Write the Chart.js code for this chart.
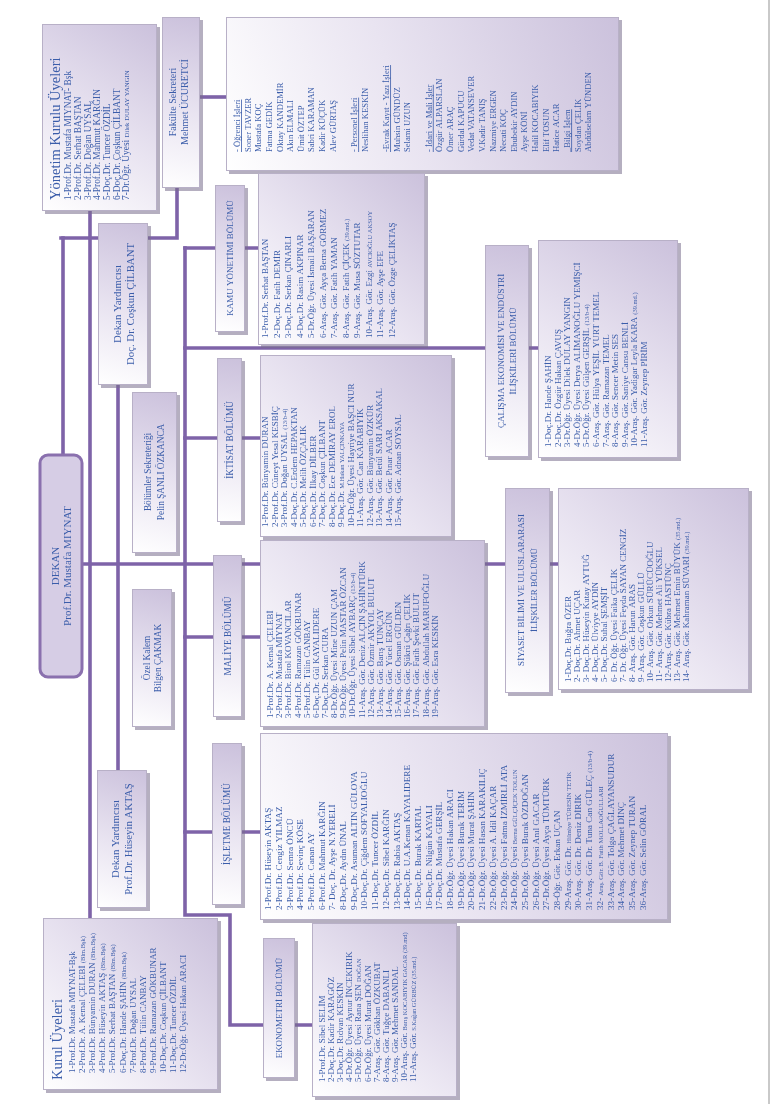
<!DOCTYPE html>
<html><head><meta charset="utf-8">
<script src="https://cdn.jsdelivr.net/npm/chart.js@4.4.1/dist/chart.umd.min.js"></script>
<style>html,body{margin:0;padding:0;background:#fff;overflow:hidden}canvas{display:block}</style>
</head><body>
<canvas id="c" width="771" height="1104" style="width:771px;height:1104px"></canvas>
<script>
// ---------------- DATA (texts) ----------------
const yonetimTitle = "Yönetim Kurulu Üyeleri";
const yonetimUyeleri = [
  "1-Prof.Dr. Mustafa MIYNAT- Bşk","2-Prof.Dr. Serhat BAŞTAN","3-Prof.Dr. Doğan UYSAL",
  "4-Prof.Dr. Mahmut KARĞIN","5-Doç.Dr. Tuncer ÖZDİL","6-Doç.Dr. Coşkun ÇİLBANT",
  "7-Dr.Öğr. Üyesi Dilek DULAY YANGIN"];
const fakulteSekreteri = ["Fakülte Sekreteri","Mehmet ÜCURETCİ"];
const idariPersonel = [
  "- Öğrenci İşleri","Soner TAVZER","Mustafa KOÇ","Fatma GEDİK","Oktay KANDEMİR","Akın ELMALI",
  "Ümit ÖZTEP","Sabri KARAMAN","Kadir KÜÇÜK","Alev GÜRTAŞ","",
  "- Personel İşleri","Neslihan KESKİN","",
  "-Evrak Kayıt - Yazı İşleri","Muhsin GÜNDÜZ","Selami UZUN","",
  "- İdari ve Mali İşler","Özgür ALPARSLAN","Ömer ARAÇ","Gürdal KAPUCU","Vedat VATANSEVER",
  "V.Kadir TANIŞ","Nazmiye ERGEN","Necati KOÇ","Ebubekir AYDIN","Ayşe KÖNİ","Halil KOCABIYIK",
  "Elif TOSUN","Hatice ACAR","_Bilgi İşlem","Soydan ÇELİK","Abdülselam YÜNDEN"];
const birimBasliklari = ["- Öğrenci İşleri","- Personel İşleri","-Evrak Kayıt - Yazı İşleri","- İdari ve Mali İşler","_Bilgi İşlem"];
const dekan = ["DEKAN","Prof.Dr. Mustafa MIYNAT"];
const dekanYardimcisi1 = ["Dekan Yardımcısı","Doç. Dr. Coşkun ÇİLBANT"];
const dekanYardimcisi2 = ["Dekan Yardımcısı","Prof.Dr. Hüseyin AKTAŞ"];
const bolumlerSekreterligi = ["Bölümler Sekreteriği","Pelin ŞANLI ÖZKANCA"];
const ozelKalem = ["Özel Kalem","Bilgen ÇAKMAK"];
const kurulTitle = "Kurul Üyeleri";
const kurulUyeleri = [
  "1-Prof.Dr. Mustafa MIYNAT-Bşk","2-Prof.Dr. A. Kemal ÇELEBİ (Blm.Bşk)","3-Prof.Dr. Bünyamin DURAN (Blm.Bşk)",
  "4-Prof.Dr. Hüseyin AKTAŞ (Blm.Bşk)","5-Prof.Dr. Serhat BAŞTAN (Blm.Bşk)","6-Doç.Dr. Hande ŞAHİN (Blm.Bşk)",
  "7-Prof.Dr. Doğan UYSAL","8-Prof.Dr. Tülin CANBAY","9-Prof.Dr. Ramazan GÖKBUNAR",
  "10-Doç.Dr. Coşkun ÇİLBANT","11-Doç.Dr. Tuncer ÖZDİL","12-Dr.Öğr. Üyesi Hakan ARACI"];
const bolumAdlari = {
  kamu: ["KAMU YÖNETİMİ BÖLÜMÜ"], iktisat: ["İKTİSAT BÖLÜMÜ"], maliye: ["MALİYE BÖLÜMÜ"],
  isletme: ["İŞLETME BÖLÜMÜ"], calisma: ["ÇALIŞMA EKONOMİSİ VE ENDÜSTRİ","İLİŞKİLERİ BÖLÜMÜ"],
  siyaset: ["SİYASET BİLİMİ VE ULUSLARARASI","İLİŞKİLER BÖLÜMÜ"], ekonometri: ["EKONOMETRİ BÖLÜMÜ"]
};
const kamuYonetimi = [
  "1-Prof.Dr. Serhat BAŞTAN","2-Doç.Dr. Fatih DEMİR","3-Doç.Dr. Serkan ÇINARLI","4-Doç.Dr. Rasim AKPINAR",
  "5-Dr.Öğr. Üyesi İsmail BAŞARAN","6-Araş. Gör. Ayça Berna GÖRMEZ","7-Araş. Gör. Fatih YAMAN",
  "8-Araş. Gör. Fatih ÇİÇEK (39.md.)","9-Araş. Gör. Musa SÖZTUTAR","10-Araş. Gör. Ezgi AVCIOĞLU AKSOY",
  "11-Araş. Gör. Ayşe EFE","12-Araş. Gör. Özge ÇELİKTAŞ"];
const iktisat = [
  "1-Prof.Dr. Bünyamin DURAN","2-Prof.Dr. Cüneyt Yesal KESBİÇ","3-Prof.Dr. Doğan UYSAL (13/b-4)",
  "4-Doç.Dr. C.Erdem HEPAKTAN","5-Doç.Dr. Melih ÖZÇALIK","6-Doç.Dr. İlkay DİLBER","7-Doç.Dr. Coşkun ÇİLBANT",
  "8-Doç.Dr. Ece DEMİRAY EROL","9-Doç.Dr. M.Hakan YALÇINKAYA","10-Dr.Öğr. Üyesi Hayriye BAŞCI NUR",
  "11-Araş. Gör. Can KARABIYIK","12-Araş. Gör. Bünyamin ÖZKÜR","13-Araş. Gör. Betül SARI AKSAKAL",
  "14-Araş. Gör. Pınar ACAR","15-Araş. Gör. Adnan SOYSAL"];
const maliye = [
  "1-Prof.Dr. A. Kemal ÇELEBİ","2-Prof.Dr. Mustafa MIYNAT","3-Prof.Dr. Birol KOVANCILAR",
  "4-Prof.Dr. Ramazan GÖKBUNAR","5-Prof.Dr. Tülin CANBAY","6-Doç.Dr. Gül KAYALIDERE","7-Doç.Dr. Serkan CURA",
  "8-Dr.Öğr. Üyesi Mine UZUN ÇAM","9-Dr.Öğr. Üyesi Pelin MASTAR ÖZCAN","10-Dr.Öğr. Üyesi Sibel AYBARÇ (13/b-4)",
  "11-Araş. Gör. Deniz ALÇIN ŞAHİNTÜRK","12-Araş. Gör. Özmir AKYOL BULUT","13-Araş. Gör. Barış TUNÇAY",
  "14-Araş. Gör. Yücel ERGÜN","15-Araş. Gör. Osman GÜLDEN","16-Araş. Gör. Şükrü Çağrı ÇELİK",
  "17-Araş. Gör. Fatih Şevki BULUT","18-Araş. Gör. Abdullah MARUFOĞLU","19-Araş. Gör. Esra KESKİN"];
const isletme = [
  "1-Prof.Dr. Hüseyin AKTAŞ","2-Prof.Dr. Cengiz YILMAZ","3-Prof.Dr. Semra ÖNCÜ","4-Prof.Dr. Sevinç KÖSE",
  "5-Prof.Dr. Canan AY","6-Prof.Dr. Mahmut KARĞIN","7- Doç. Dr. Ayşe N.YERELİ","8-Doç.Dr. Aydın ÜNAL",
  "9-Doç.Dr. Asuman ALTIN GÜLOVA","10-Doç.Dr. Çiğdem SOFYALIOĞLU","11-Doç.Dr. Tuncer ÖZDİL",
  "12-Doç.Dr. Sibel KARĞIN","13-Doç.Dr. Rabia AKTAŞ","14-Doç.Dr. U.A.Kenan KAYALIDERE","15-Doç.Dr. Burak KARTAL",
  "16-Doç.Dr. Nilgün KAYALI","17-Doç.Dr. Mustafa GERŞİL","18-Dr.Öğr. Üyesi Hakan ARACI",
  "19-Dr.Öğr. Üyesi Burak TERİM","20-Dr.Öğr. Üyesi Murat ŞAHİN","21-Dr.Öğr. Üyesi Hasan KARAKILIÇ",
  "22-Dr.Öğr. Üyesi A. İdil KAÇAR","23-Dr.Öğr. Üyesi Fatma İZMİRLİ ATA","24-Dr.Öğr. Üyesi Berna GÜLÇİÇEK TOLUN",
  "25-Dr.Öğr. Üyesi Burak ÖZDOĞAN","26-Dr.Öğr. Üyesi Anıl GACAR","27-Dr.Öğr. Üyesi Ayça TÜMTÜRK",
  "28-Öğr. Gör. Erkan UÇAN","29-Araş. Gör. Dr. Hilmiye TÜRESİN TETİK","30-Araş. Gör. Dr. Deniz DİRİK",
  "31-Araş. Gör. Dr. Tuna Can GÜLEÇ (13/b-4)","32- Araş. Gör. B. Fatih MOLLAOĞULLARI",
  "33-Araş. Gör. Tolga ÇAĞLAYANSUDUR","34-Araş. Gör. Mehmet DİNÇ","35-Araş. Gör. Zeynep TURAN",
  "36-Araş. Gör. Selin GÖRAL"];
const calisma = [
  "1-Doç.Dr. Hande ŞAHİN","2-Doç.Dr. Özgür Hakan ÇAVUŞ","3-Dr.Öğr. Üyesi Dilek DULAY YANGIN",
  "4-Dr.Öğr. Üyesi Derya ALİMANOĞLU YEMİŞCİ","5-Dr.Öğr. Üyesi Gülşen GERŞİL (13/b-4)",
  "6-Araş. Gör. Hülya YEŞİL YURT TEMEL","7-Araş. Gör. Ramazan TEMEL","8-Araş. Gör. Sencer Metin SES",
  "9-Araş. Gör. Saniye Cansu BENLİ","10-Araş. Gör. Yadigar Leyla KARA (39.md.)","11-Araş. Gör. Zeynep PİRİM"];
const siyaset = [
  "1-Doç.Dr. Buğra ÖZER","2- Doç.Dr. Ahmet UÇAR","3- Doç.Dr. Hüseyin Kutay AYTUĞ","4- Doç.Dr. Ülviyye AYDIN",
  "5- Doç.Dr. Suhal ŞEMŞİT","6- Dr. Öğr. Üyesi Faika ÇELİK","7- Dr. Öğr. Üyesi Feyda SAYAN CENGİZ",
  "8- Araş. Gör. Harun ARAS","9- Araş. Gör. Coşkun GÜLLÜ","10- Araş. Gör. Orkun SÜRÜCÜOĞLU",
  "11- Araş. Gör. Mehmet Ali YÜKSEL","12-Araş. Gör. Kübra HASTÜNÇ","13- Araş. Gör. Mehmet Emin BÜYÜK (35.md.)",
  "14- Araş. Gör. Kahraman SÜVARİ (39.md.)"];
const ekonometri = [
  "1-Prof.Dr. Sibel SELİM","2-Doç.Dr. Kadir KARAGÖZ","3-Doç.Dr. Rıdvan KESKİN","4-Dr.Öğr. Üyesi Aynur İNCEKIRIK",
  "5-Dr.Öğr. Üyesi Rana ŞEN DOĞAN","6-Dr.Öğr. Üyesi Murat DOĞAN","7-Araş. Gör. Gökhan ÖZKUBAT",
  "8-Araş. Gör. Tuğçe DABANLI","9-Araş. Gör. Mehmet SANDAL","10-Araş. Gör. Barış KOCABIYIK GACAR (39.md)",
  "11-Araş. Gör. S.Kağan GÜRBÜZ (35.md.)"];

// ---------------- LAYOUT (page coordinates of the rotated sheet) ----------------
const BOXES = {
  yonetim:[42,24,157,211], fakulte:[162,17,200,188], staff:[226,17,619,171],
  dy1:[98,223,148,385], bolSek:[132,392,177,553], dekan:[40,455,82,677], ozel:[132,589,172,727],
  dy2:[97,770,147,908], kurul:[43,918,218,1090],
  kamuH:[215,185,245,332], kamuM:[258,173,425,345],
  iktH:[217,358,242,522], iktM:[260,355,452,537],
  malH:[213,555,242,717], malM:[260,540,485,727],
  islH:[212,743,242,905], islM:[260,733,668,920],
  calH:[485,245,529,457], calM:[538,240,678,458],
  siyH:[505,488,550,693], siyM:[558,488,749,690],
  ekoH:[263,938,295,1078], ekoM:[312,923,457,1097]
};
const B = id => BOXES[id];
const CONNECTORS = [
  [[90,B('yonetim')[3]],[90,B('kurul')[1]]],
  [[63,238],[63,B('dekan')[1]]],
  [[61,238],[B('dy1')[0],238]],
  [[B('dy1')[2],238],[177,238],[177,B('fakulte')[3]]],
  [[B('fakulte')[2],97],[B('staff')[0],97]],
  [[118,B('dy1')[3]],[118,B('dy2')[1]]],
  [[B('dekan')[2],564],[B('siyM')[0],564]],
  [[185,248],[185,915],[230,915],[230,1025],[B('ekoM')[0],1025]],
  [[185,248],[B('kamuM')[0],248]],
  [[185,348],[B('calM')[0],348]],
  [[185,438],[B('iktM')[0],438]],
  [[185,637],[B('malM')[0],637]],
  [[185,832],[B('islM')[0],832]]
];
const TEXTS = [
  {lines:[yonetimTitle], x:55, step:0, y:200, size:14.5},
  {lines:yonetimUyeleri, x:68, step:9.7, y:200, size:9.4, small:{6:"Dilek DULAY YANGIN"}},
  {lines:fakulteSekreteri, x:173, step:12, y:102, center:true, size:10},
  {lines:idariPersonel, x:237, step:10.65, y:152, size:8.6, underline:birimBasliklari},
  {lines:dekanYardimcisi1, x:117, step:13, y:304, center:true, size:10.8},
  {lines:bolumlerSekreterligi, x:148, step:13, y:472, center:true, size:9.3},
  {lines:dekan, x:55, step:12, y:566, center:true, size:11},
  {lines:ozelKalem, x:147, step:11, y:658, center:true, size:9.3},
  {lines:dekanYardimcisi2, x:115, step:13, y:839, center:true, size:10.8},
  {lines:[kurulTitle], x:57, step:0, y:1080, size:14.5},
  {lines:kurulUyeleri, x:72, step:10.1, y:1073, size:9, small:{1:"(Blm.Bşk)",2:"(Blm.Bşk)",3:"(Blm.Bşk)",4:"(Blm.Bşk)",5:"(Blm.Bşk)"}},
  {lines:bolumAdlari.kamu, x:230, step:0, y:258, center:true, size:9},
  {lines:kamuYonetimi, x:265, step:11.5, y:338, size:9, small:{7:"(39.md.)",9:"AVCIOĞLU AKSOY"}},
  {lines:bolumAdlari.iktisat, x:230, step:0, y:440, center:true, size:9.3},
  {lines:iktisat, x:265, step:9.5, y:527, size:9, small:{2:"(13/b-4)",8:"M.Hakan YALÇINKAYA"}},
  {lines:bolumAdlari.maliye, x:228, step:0, y:636, center:true, size:9.3},
  {lines:maliye, x:270, step:9.15, y:718, size:9, small:{9:"(13/b-4)"}},
  {lines:bolumAdlari.isletme, x:227, step:0, y:824, center:true, size:9.3},
  {lines:isletme, x:268, step:10.7, y:910, size:9.2, small:{23:"Berna GÜLÇİÇEK TOLUN",28:"Hilmiye TÜRESİN TETİK",30:"(13/b-4)",31:"Araş. Gör. B. Fatih MOLLAOĞULLARI"}},
  {lines:bolumAdlari.calisma, x:501, step:12, y:351, center:true, size:9},
  {lines:calisma, x:548, step:9.6, y:447, size:9, small:{4:"(13/b-4)",9:"(39.md.)"}},
  {lines:bolumAdlari.siyaset, x:521, step:13, y:590, center:true, size:9},
  {lines:siyaset, x:568, step:9.1, y:682, size:9, small:{12:"(35.md.)",13:"(39.md.)"}},
  {lines:bolumAdlari.ekonometri, x:279, step:0, y:1008, center:true, size:9},
  {lines:ekonometri, x:322, step:9.1, y:1082, size:9, small:{4:"DOĞAN",9:"Barış KOCABIYIK GACAR (39.md)",10:"S.Kağan GÜRBÜZ (35.md.)"}}
];

// ---------------- STYLE ----------------
const LINE_COLOR = '#7e63a8', TEXT_COLOR = '#3b5daa', FONT = '"Liberation Serif","Times New Roman",serif';

const orgPlugin = {
  id: 'org',
  beforeDatasetsDraw(chart) {
    const c = chart.ctx, xs = chart.scales.x, ys = chart.scales.y;
    c.save(); c.fillStyle = '#c9c9c9';
    c.fillRect(xs.getPixelForValue(768), ys.getPixelForValue(0), 2, ys.getPixelForValue(1104) - ys.getPixelForValue(0));
    c.restore();
  },
  afterDatasetsDraw(chart) {
    const c = chart.ctx, xs = chart.scales.x, ys = chart.scales.y;
    const X = v => xs.getPixelForValue(v), Y = v => ys.getPixelForValue(v);
    c.save();
    for (const id in BOXES) {
      const r = BOXES[id];
      const x0 = X(r[0]), y0 = Y(r[1]), x1 = X(r[2]), y1 = Y(r[3]);
      const w = x1 - x0, h = y1 - y0;
      if (id === 'dekan') {
        c.beginPath(); c.roundRect(x0, y0, w, h, 8);
        c.fillStyle = '#d6cde5'; c.fill();
        c.lineWidth = 3; c.strokeStyle = '#8a70ae'; c.stroke();
        continue;
      }
      c.fillStyle = 'rgba(120,110,140,0.55)';
      c.fillRect(x0 + 3, y0 + 3, w, h);
      const g = c.createLinearGradient(x0, y1, x1, y0);
      g.addColorStop(0, '#ffffff'); g.addColorStop(0.45, '#e9e4f1'); g.addColorStop(1, '#cbc1dc');
      c.fillStyle = g; c.fillRect(x0, y0, w, h);
      c.strokeStyle = '#b8b0c7'; c.lineWidth = 1; c.strokeRect(x0 + 0.5, y0 + 0.5, w - 1, h - 1);
    }
    for (const t of TEXTS) {
      t.lines.forEach((txt, i) => {
        if (!txt) return;
        const px = X(t.x + i * t.step), py = Y(t.y);
        drawRot(c, px, py, txt, t.size, t.small && t.small[i], !!t.center, t.underline && t.underline.includes(txt));
      });
    }
    c.restore();
  }
};

function drawRot(c, px, py, text, size, smallPart, center, underline) {
  c.save(); c.translate(px, py); c.rotate(-Math.PI / 2);
  c.fillStyle = TEXT_COLOR; c.textBaseline = 'alphabetic'; c.textAlign = 'left';
  let segs = [[text, size]];
  if (smallPart && text.indexOf(smallPart) >= 0) {
    const k = text.indexOf(smallPart);
    segs = [[text.slice(0, k), size], [smallPart, size * 0.72], [text.slice(k + smallPart.length), size]];
  }
  let total = 0;
  for (const s of segs) { c.font = s[1] + 'px ' + FONT; total += c.measureText(s[0]).width; }
  let cx = center ? -total / 2 : 0; const start = cx;
  const base = size * 0.34;
  for (const s of segs) { c.font = s[1] + 'px ' + FONT; c.fillText(s[0], cx, base); cx += c.measureText(s[0]).width; }
  if (underline) c.fillRect(start, base + 1.2, total, 0.8);
  c.restore();
}

new Chart(document.getElementById('c'), {
  type: 'scatter',
  data: { datasets: CONNECTORS.map(p => ({
    data: p.map(q => ({x: q[0], y: q[1]})), showLine: true, borderColor: LINE_COLOR,
    borderWidth: 3.6, pointRadius: 0, fill: false, tension: 0, borderJoinStyle: 'miter', borderCapStyle: 'square'
  })) },
  options: {
    responsive: false, animation: false, devicePixelRatio: 1,
    layout: { padding: 0 },
    plugins: { legend: { display: false }, tooltip: { enabled: false } },
    scales: {
      x: { type: 'linear', min: 0, max: 771, display: false },
      y: { type: 'linear', min: 0, max: 1104, reverse: true, display: false }
    }
  },
  plugins: [orgPlugin]
});
</script>
</body></html>
